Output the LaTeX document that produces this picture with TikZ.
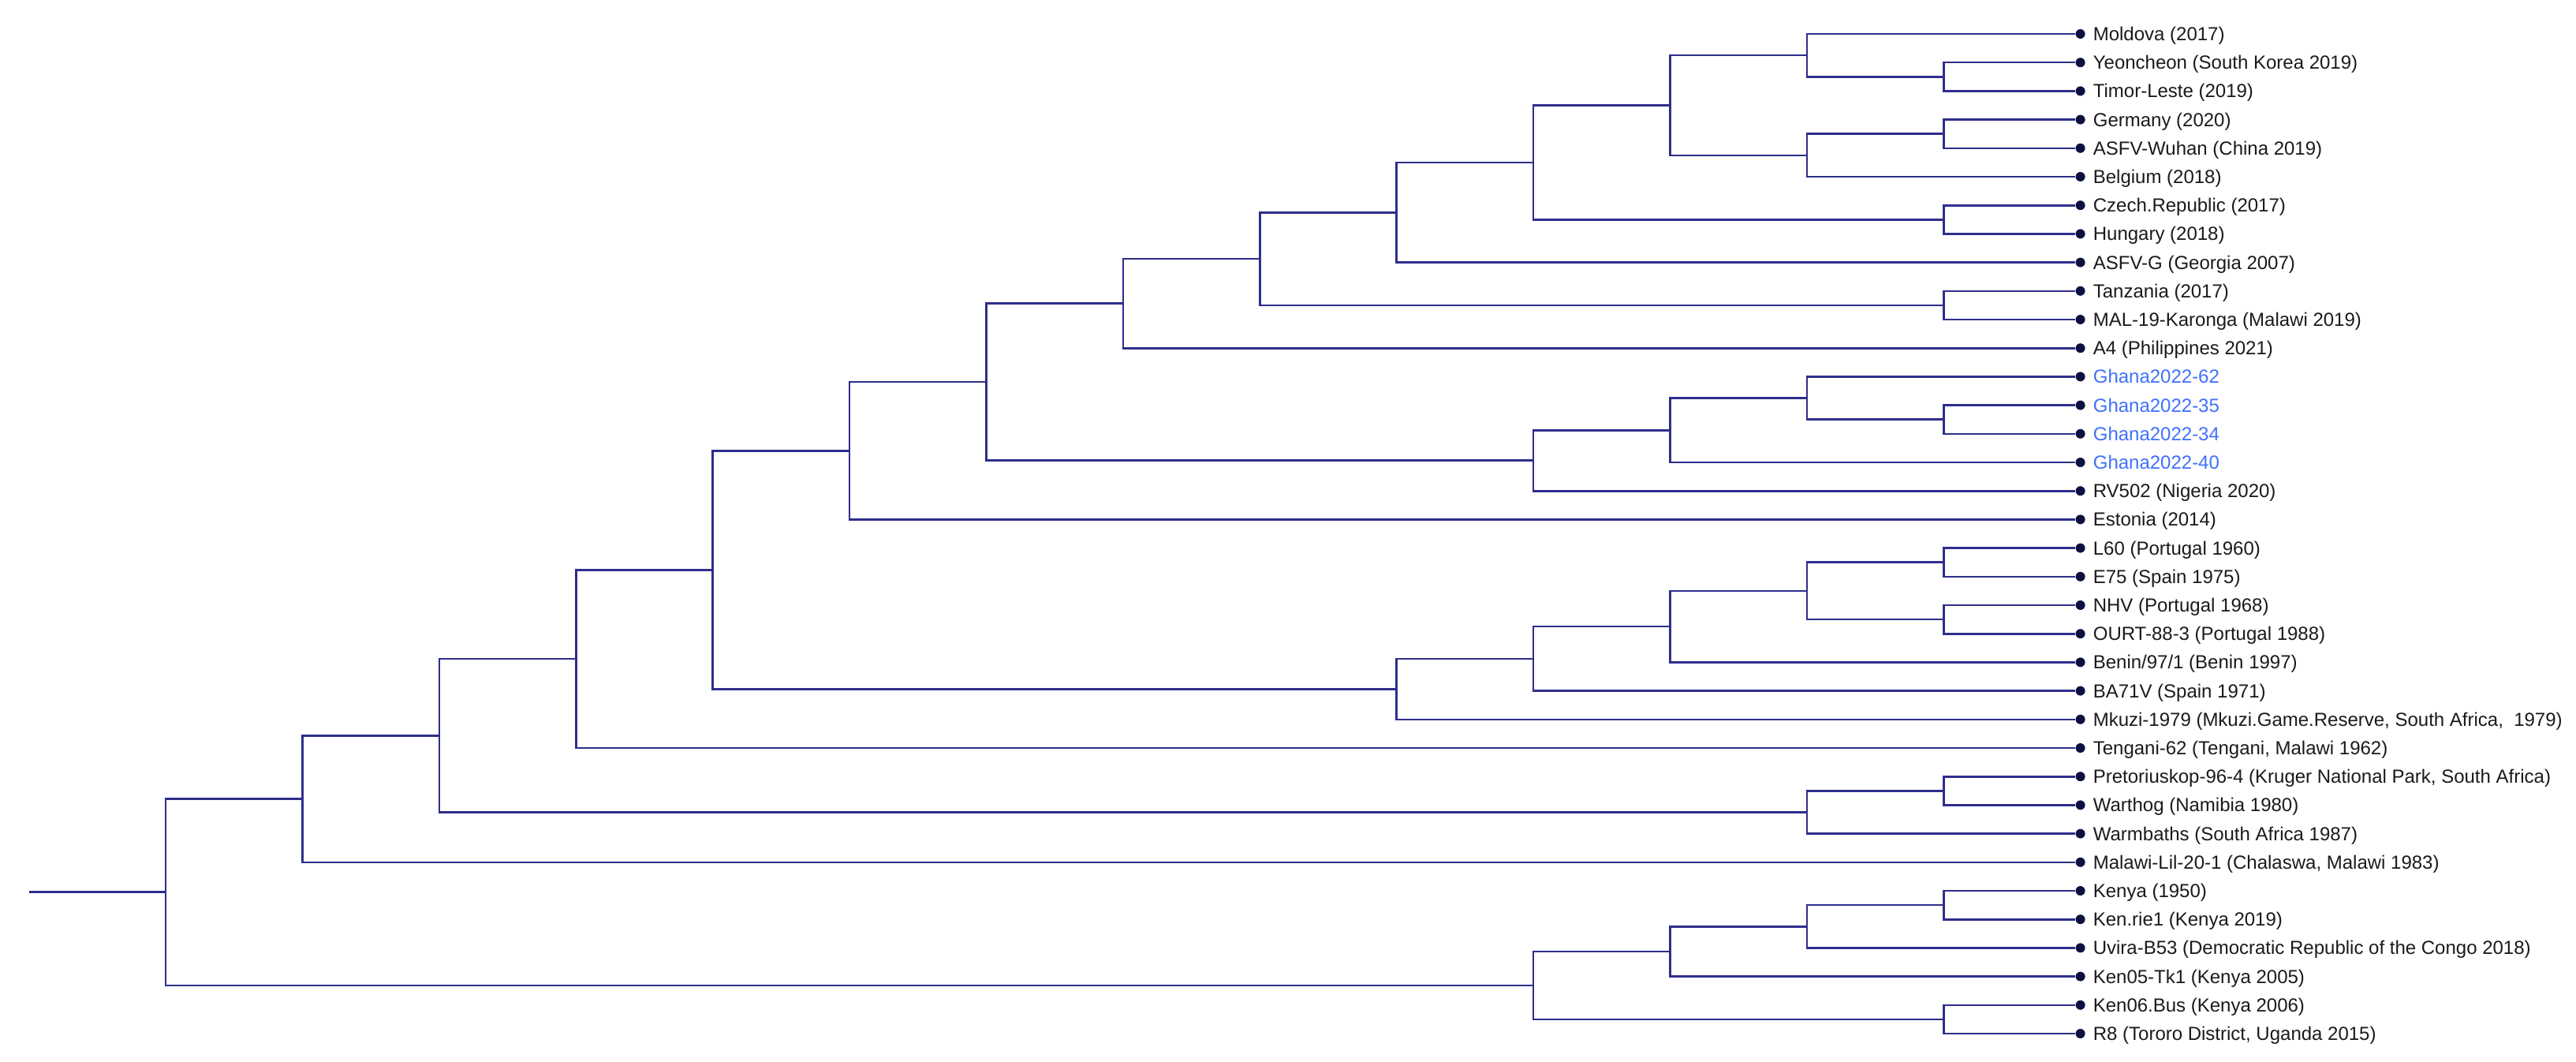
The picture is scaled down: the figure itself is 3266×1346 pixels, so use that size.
\documentclass[tikz,border=0pt]{standalone}
\usepackage{fontspec}
\setmainfont{Liberation Sans}
\definecolor{edgeblue}{RGB}{46,46,140}
\definecolor{dotnavy}{RGB}{12,16,64}
\definecolor{ghana}{RGB}{64,112,250}
\definecolor{labgray}{RGB}{26,26,26}
\newcommand\TN[3]{\coordinate (#1) at ({210+173.4*#2},{43+36.2*#3});}
\newcommand\LF[3]{\node[leafdot] (l#1) at ({210+173.4*14},{43+36.2*#1}) {};
  \node[leaflab,#3] (t#1) at ([xshift=16pt,yshift=-8.4pt]l#1.center) {#2};}
\begin{document}
\begin{tikzpicture}[x=1pt,y=-1pt,
  edge/.style={draw=edgeblue,line width=2.6pt,line join=miter},
  leafdot/.style={circle,fill=dotnavy,inner sep=0pt,minimum size=12pt},
  leaflab/.style={anchor=base west,inner sep=0pt,text=labgray,font=\fontsize{24}{29}\selectfont},
  gh/.style={text=ghana}]
\useasboundingbox (0,0) rectangle (3266,1346);
% internal nodes
\TN{root}{0}{30.0479}
\TN{a17}{1}{26.7832}
\TN{a16}{2}{24.5664}
\TN{a15}{3}{21.8828}
\TN{a14}{4}{18.765625}
\TN{a13}{5}{14.59375}
\TN{a12}{6}{12.1875}
\TN{a11}{7}{9.4375}
\TN{a10}{8}{7.875}
\TN{a8}{9}{6.25}
\TN{a7}{10}{4.5}
\TN{a5}{11}{2.5}
\TN{a1}{12}{0.75}
\TN{a2}{13}{1.5}
\TN{a3}{12}{4.25}
\TN{a4}{13}{3.5}
\TN{a6}{13}{6.5}
\TN{a9}{13}{9.5}
\TN{g4}{10}{14.9375}
\TN{g3}{11}{13.875}
\TN{g2}{12}{12.75}
\TN{g1}{13}{13.5}
\TN{n6}{9}{22.9375}
\TN{n5}{10}{21.875}
\TN{n4}{11}{20.75}
\TN{n3}{12}{19.5}
\TN{n1}{13}{18.5}
\TN{n2}{13}{20.5}
\TN{s2}{12}{27.25}
\TN{s1}{13}{26.5}
\TN{k5}{10}{33.3125}
\TN{k3}{11}{32.125}
\TN{k2}{12}{31.25}
\TN{k1}{13}{30.5}
\TN{k4}{13}{34.5}
\TN{r0}{-1}{30.0479}
% leaves
\LF{0}{Moldova (2017)}{}
\LF{1}{Yeoncheon (South Korea 2019)}{}
\LF{2}{Timor-Leste (2019)}{}
\LF{3}{Germany (2020)}{}
\LF{4}{ASFV-Wuhan (China 2019)}{}
\LF{5}{Belgium (2018)}{}
\LF{6}{Czech.Republic (2017)}{}
\LF{7}{Hungary (2018)}{}
\LF{8}{ASFV-G (Georgia 2007)}{}
\LF{9}{Tanzania (2017)}{}
\LF{10}{MAL-19-Karonga (Malawi 2019)}{}
\LF{11}{A4 (Philippines 2021)}{}
\LF{12}{Ghana2022-62}{gh}
\LF{13}{Ghana2022-35}{gh}
\LF{14}{Ghana2022-34}{gh}
\LF{15}{Ghana2022-40}{gh}
\LF{16}{RV502 (Nigeria 2020)}{}
\LF{17}{Estonia (2014)}{}
\LF{18}{L60 (Portugal 1960)}{}
\LF{19}{E75 (Spain 1975)}{}
\LF{20}{NHV (Portugal 1968)}{}
\LF{21}{OURT-88-3 (Portugal 1988)}{}
\LF{22}{Benin/97/1 (Benin 1997)}{}
\LF{23}{BA71V (Spain 1971)}{}
\LF{24}{Mkuzi-1979 (Mkuzi.Game.Reserve, South Africa,\ \ 1979)}{}
\LF{25}{Tengani-62 (Tengani, Malawi 1962)}{}
\LF{26}{Pretoriuskop-96-4 (Kruger National Park, South Africa)}{}
\LF{27}{Warthog (Namibia 1980)}{}
\LF{28}{Warmbaths (South Africa 1987)}{}
\LF{29}{Malawi-Lil-20-1 (Chalaswa, Malawi 1983)}{}
\LF{30}{Kenya (1950)}{}
\LF{31}{Ken.rie1 (Kenya 2019)}{}
\LF{32}{Uvira-B53 (Democratic Republic of the Congo 2018)}{}
\LF{33}{Ken05-Tk1 (Kenya 2005)}{}
\LF{34}{Ken06.Bus (Kenya 2006)}{}
\LF{35}{R8 (Tororo District, Uganda 2015)}{}
% edges
\begin{scope}[edge]
\draw (r0) -- (root);
\draw (root) |- (a17); \draw (root) |- (k5);
\draw (a17) |- (a16); \draw (a17) |- (l29);
\draw (a16) |- (a15); \draw (a16) |- (s2);
\draw (a15) |- (a14); \draw (a15) |- (l25);
\draw (a14) |- (a13); \draw (a14) |- (n6);
\draw (a13) |- (a12); \draw (a13) |- (l17);
\draw (a12) |- (a11); \draw (a12) |- (g4);
\draw (a11) |- (a10); \draw (a11) |- (l11);
\draw (a10) |- (a8); \draw (a10) |- (a9);
\draw (a8) |- (a7); \draw (a8) |- (l8);
\draw (a7) |- (a5); \draw (a7) |- (a6);
\draw (a5) |- (a1); \draw (a5) |- (a3);
\draw (a1) |- (l0); \draw (a1) |- (a2);
\draw (a2) |- (l1); \draw (a2) |- (l2);
\draw (a3) |- (a4); \draw (a3) |- (l5);
\draw (a4) |- (l3); \draw (a4) |- (l4);
\draw (a6) |- (l6); \draw (a6) |- (l7);
\draw (a9) |- (l9); \draw (a9) |- (l10);
\draw (g4) |- (g3); \draw (g4) |- (l16);
\draw (g3) |- (g2); \draw (g3) |- (l15);
\draw (g2) |- (l12); \draw (g2) |- (g1);
\draw (g1) |- (l13); \draw (g1) |- (l14);
\draw (n6) |- (n5); \draw (n6) |- (l24);
\draw (n5) |- (n4); \draw (n5) |- (l23);
\draw (n4) |- (n3); \draw (n4) |- (l22);
\draw (n3) |- (n1); \draw (n3) |- (n2);
\draw (n1) |- (l18); \draw (n1) |- (l19);
\draw (n2) |- (l20); \draw (n2) |- (l21);
\draw (s2) |- (s1); \draw (s2) |- (l28);
\draw (s1) |- (l26); \draw (s1) |- (l27);
\draw (k5) |- (k3); \draw (k5) |- (k4);
\draw (k3) |- (k2); \draw (k3) |- (l33);
\draw (k2) |- (k1); \draw (k2) |- (l32);
\draw (k1) |- (l30); \draw (k1) |- (l31);
\draw (k4) |- (l34); \draw (k4) |- (l35);
\end{scope}
\end{tikzpicture}
\end{document}
